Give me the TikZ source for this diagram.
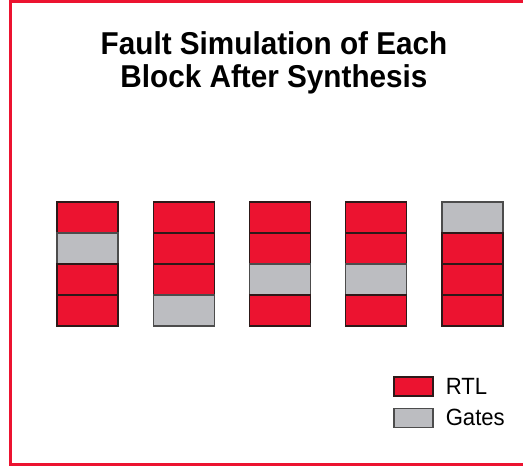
\documentclass[tikz,border=0pt]{standalone}
\usepackage{fontspec}
\setmainfont{Liberation Sans}[FakeStretch=0.94]
\usepackage{tikz}
\usetikzlibrary{positioning}

\definecolor{rtlred}{RGB}{236,19,48}
\definecolor{gatesgray}{RGB}{188,189,193}
\definecolor{edgedark}{RGB}{45,25,25}

\tikzset{
  frame/.style={draw=rtlred, line width=3pt},
  cell/.style={draw=edgedark, line width=1.2pt, minimum width=61pt, minimum height=31pt, inner sep=0pt},
  r/.style={cell, fill=rtlred},
  g/.style={cell, fill=gatesgray, draw=black!70},
  keybox/.style={line width=1.2pt, minimum width=39pt, minimum height=19pt, inner sep=0pt},
  keytext/.style={font=\fontsize{23.5}{26}\selectfont, inner sep=0pt, anchor=west},
  heading/.style={font=\fontsize{31.6}{33}\selectfont\bfseries, align=center, inner sep=0pt}
}

\begin{document}
\begin{tikzpicture}[x=1pt, y=-1pt]
    \useasboundingbox (0,0) rectangle (523,466);

    % red frame, open on the right
    \draw [frame] (523,1.5) -- (10.5,1.5) -- (10.5,464) -- (523,464);

    % heading
    \node [heading, anchor=north] (title) at (274,31.7) {Fault Simulation of Each\\Block After Synthesis};

    % the five blocks, top cell first
    \foreach \pat [count=\i] in {{r,g,r,r},{r,r,r,g},{r,r,g,r},{r,r,g,r},{g,r,r,r}}
      \foreach \c [count=\j] in \pat
        \node [\c] (b\i-\j) at ({87.5+96.25*(\i-1)},{217.5+31*(\j-1)}) {};

    % legend
    \node [keybox, fill=rtlred, draw=edgedark] (keyrtl) at (413.5,386.5) {};
    \node [keybox, fill=gatesgray, draw=black!70] (keygates) at (413.5,417.7) {};
    \node [keytext, right=12pt of keyrtl] (rtl) {RTL};
    \node [keytext, right=12pt of keygates] (gates) {Gates};

\end{tikzpicture}
\end{document}
